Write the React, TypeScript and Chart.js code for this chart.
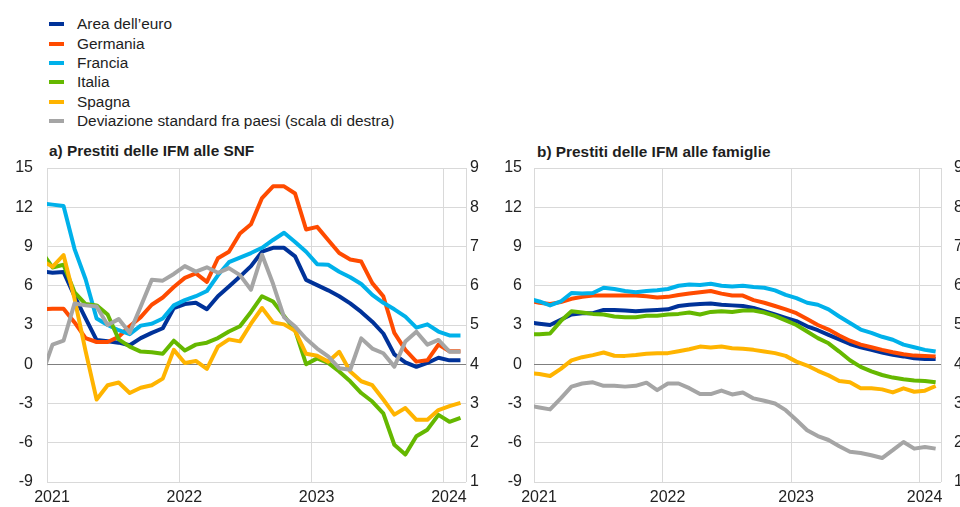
import React, { useEffect, useRef } from 'react';
import { Chart, registerables } from 'chart.js';

Chart.register(...registerables);

const FONT = '"Liberation Sans", Arial, Helvetica, sans-serif';

// Monthly observations (mid-month), December 2020 to February 2024
const FIRST_MONTH = '2020-12';
const LAST_MONTH = '2024-02';
// Visible x range (start of month)
const AXIS_START = '2021-01';
const AXIS_END = '2024-03';
const YEAR_TICKS = [2021, 2022, 2023, 2024];

const LEFT_TICKS = { min: -9, max: 15, step: 3 };
const RIGHT_TICKS = { min: 1, max: 9, step: 1 };

const SERIES_LABELS = [
  "Area dell\u2019euro",
  'Germania',
  'Francia',
  'Italia',
  'Spagna',
  'Deviazione standard fra paesi (scala di destra)',
];
const SERIES_COLORS = ['#003299', '#FF4B00', '#00B1EA', '#65B800', '#FFB400', '#A5A5A5'];

const TITLE_A = 'a) Prestiti delle IFM alle SNF';
const TITLE_B = 'b) Prestiti delle IFM alle famiglie';

// a) loans to non-financial corporations (annual % change)
const snfArea = [7.1, 7.0, 7.05, 5.2, 3.5, 1.85, 1.75, 1.65, 1.45, 2.0, 2.4, 2.75, 4.3, 4.6, 4.7, 4.2, 5.2, 5.95, 6.7, 7.5, 8.6, 8.9, 8.9, 8.25, 6.45, 6.05, 5.65, 5.2, 4.65, 4.0, 3.25, 2.35, 0.75, 0.15, -0.2, 0.1, 0.5, 0.3, 0.3];
const snfGermania = [4.2, 4.25, 4.25, 3.2, 2.0, 1.7, 1.7, 2.1, 2.9, 3.6, 4.55, 5.1, 5.9, 6.6, 6.95, 6.3, 8.1, 8.6, 10.0, 10.7, 12.7, 13.6, 13.6, 13.05, 10.3, 10.5, 9.5, 8.5, 8.0, 7.85, 6.2, 5.2, 2.4, 1.1, 0.2, 0.3, 1.5, 1.0, 1.0];
const snfFrancia = [12.3, 12.2, 12.1, 8.8, 6.5, 3.5, 3.0, 2.6, 2.3, 2.95, 3.1, 3.5, 4.5, 4.9, 5.2, 5.6, 6.8, 7.8, 8.15, 8.5, 8.9, 9.5, 10.05, 9.35, 8.6, 7.65, 7.6, 7.07, 6.65, 6.13, 5.3, 4.7, 4.2, 3.64, 2.8, 3.05, 2.5, 2.2, 2.2];
const snfItalia = [8.6, 7.4, 7.6, 5.5, 4.6, 4.5, 3.8, 1.9, 1.35, 0.97, 0.92, 0.8, 1.8, 1.05, 1.5, 1.65, 2.0, 2.5, 2.9, 4.0, 5.2, 4.8, 3.7, 2.6, 0.0, 0.45, 0.1, -0.55, -1.3, -2.2, -2.85, -3.75, -6.15, -6.9, -5.5, -5.0, -3.87, -4.4, -4.1];
const snfSpagna = [7.95, 7.45, 8.35, 5.0, 1.0, -2.7, -1.6, -1.4, -2.2, -1.8, -1.6, -1.1, 1.1, 0.1, 0.25, -0.35, 1.35, 1.9, 1.75, 3.1, 4.3, 3.2, 3.05, 2.55, 0.8, 0.65, 0.2, 0.95, -0.55, -1.3, -1.6, -2.7, -3.85, -3.35, -4.25, -4.25, -3.5, -3.2, -2.95];
const snfStdDev = [3.7, 4.5, 4.6, 5.55, 5.5, 5.47, 5.0, 5.15, 4.8, 5.47, 6.15, 6.13, 6.3, 6.5, 6.36, 6.47, 6.33, 6.45, 6.27, 5.9, 6.79, 6.05, 5.2, 4.96, 4.65, 4.4, 4.2, 3.9, 3.86, 4.66, 4.4, 4.28, 3.94, 4.58, 4.83, 4.5, 4.62, 4.32, 4.32];

// b) loans to households (annual % change)
const famArea = [3.2, 3.1, 3.0, 3.4, 3.8, 3.9, 3.9, 4.15, 4.15, 4.1, 4.05, 4.1, 4.15, 4.2, 4.45, 4.55, 4.6, 4.65, 4.55, 4.5, 4.45, 4.3, 4.05, 3.8, 3.55, 3.3, 2.9, 2.6, 2.25, 1.9, 1.55, 1.3, 1.1, 0.9, 0.72, 0.6, 0.45, 0.4, 0.4];
const famGermania = [4.85, 4.7, 4.6, 4.75, 5.0, 5.15, 5.25, 5.25, 5.25, 5.25, 5.25, 5.2, 5.1, 5.15, 5.3, 5.4, 5.5, 5.6, 5.4, 5.25, 5.25, 4.9, 4.7, 4.45, 4.2, 3.9, 3.45, 3.0, 2.65, 2.2, 1.8, 1.5, 1.3, 1.1, 0.92, 0.77, 0.66, 0.64, 0.6];
const famFrancia = [5.0, 4.8, 4.5, 4.8, 5.45, 5.4, 5.45, 5.85, 5.75, 5.6, 5.5, 5.6, 5.65, 5.75, 6.0, 6.1, 6.05, 6.15, 6.0, 5.95, 6.0, 5.9, 5.85, 5.65, 5.3, 5.05, 4.7, 4.55, 4.2, 3.65, 3.15, 2.65, 2.4, 2.1, 1.87, 1.5, 1.3, 1.1, 0.97];
const famItalia = [2.3, 2.3, 2.35, 3.3, 4.05, 3.95, 3.85, 3.8, 3.65, 3.6, 3.6, 3.7, 3.7, 3.8, 3.85, 3.95, 3.8, 4.0, 4.05, 4.0, 4.1, 4.1, 3.95, 3.7, 3.35, 3.0, 2.5, 2.0, 1.6, 0.97, 0.3, -0.2, -0.55, -0.82, -1.02, -1.15, -1.25, -1.28, -1.38];
const famSpagna = [-0.65, -0.75, -0.9, -0.35, 0.3, 0.54, 0.7, 0.9, 0.65, 0.64, 0.7, 0.8, 0.85, 0.85, 1.0, 1.15, 1.35, 1.28, 1.35, 1.23, 1.18, 1.1, 0.97, 0.85, 0.64, 0.2, -0.1, -0.5, -0.85, -1.28, -1.38, -1.84, -1.84, -1.92, -2.15, -1.84, -2.1, -2.02, -1.66];
const famStdDev = [2.95, 2.9, 2.85, 3.13, 3.43, 3.51, 3.54, 3.45, 3.45, 3.43, 3.45, 3.53, 3.34, 3.51, 3.51, 3.39, 3.24, 3.24, 3.33, 3.23, 3.28, 3.13, 3.07, 3.0, 2.83, 2.58, 2.32, 2.17, 2.07, 1.91, 1.77, 1.74, 1.68, 1.61, 1.81, 2.02, 1.85, 1.89, 1.85];

// ---- helpers -------------------------------------------------------------
const BASE_YEAR = 2021;
function parseMonth(s: string) {
  const [y, m] = s.split('-').map(Number);
  return { y, m };
}
function monthStartIndex(s: string) {
  const { y, m } = parseMonth(s);
  return (y - BASE_YEAR) * 12 + (m - 1);
}
function monthList(first: string, last: string) {
  const out: string[] = [];
  let { y, m } = parseMonth(first);
  const end = monthStartIndex(last);
  while ((y - BASE_YEAR) * 12 + (m - 1) <= end) {
    out.push(`${y}-${String(m).padStart(2, '0')}`);
    m += 1;
    if (m > 12) { m = 1; y += 1; }
  }
  return out;
}
const MONTHS = monthList(FIRST_MONTH, LAST_MONTH);
// observation placed at the middle of its month
const MONTH_POS = MONTHS.map((s) => monthStartIndex(s) + 0.5);

function toPoints(values: number[]) {
  return values.map((v, i) => ({ x: MONTH_POS[i], y: v }));
}

type PanelLayout = {
  leftWidth: number;
  rightWidth: number;
  leftPad: number;
  rightPad: number;
};

function buildConfig(series: number[][], layout: PanelLayout): any {
  const datasets = series.map((vals, i) => {
    const isRight = i === 5;
    return {
      label: SERIES_LABELS[i],
      data: toPoints(vals),
      yAxisID: isRight ? 'y1' : 'y',
      borderColor: SERIES_COLORS[i],
      backgroundColor: SERIES_COLORS[i],
      borderWidth: 4,
      pointRadius: 0,
      pointHoverRadius: 0,
      tension: 0,
      fill: false,
      borderJoinStyle: 'round',
      borderCapStyle: 'butt',
      clip: { left: 0, right: 0, top: 6, bottom: 6 },
      order: 5 - i,
    };
  });
  const tickFont = { family: FONT, size: 16 };
  return {
    type: 'line',
    data: { datasets },
    options: {
      responsive: false,
      animation: false,
      events: [],
      layout: { padding: { top: 28, left: 0, right: 0, bottom: 0 } },
      plugins: { legend: { display: false }, tooltip: { enabled: false }, title: { display: false } },
      scales: {
        x: {
          type: 'linear',
          min: monthStartIndex(AXIS_START),
          max: monthStartIndex(AXIS_END),
          grid: { color: '#d9d9d9', lineWidth: 1, drawTicks: false },
          border: { display: false },
          afterBuildTicks: (scale: any) => {
            const t = YEAR_TICKS.map((yr) => ({ value: monthStartIndex(`${yr}-01`) }));
            t.push({ value: monthStartIndex(AXIS_END) });
            scale.ticks = t;
          },
          afterFit: (scale: any) => { scale.height = 25; },
          ticks: {
            autoSkip: false,
            maxRotation: 0,
            minRotation: 0,
            padding: 6,
            labelOffset: 5,
            color: '#222',
            font: tickFont,
            callback: (v: number) => {
              const yr = BASE_YEAR + v / 12;
              return YEAR_TICKS.includes(yr) ? String(yr) : '';
            },
          },
        },
        y: {
          type: 'linear',
          position: 'left',
          min: LEFT_TICKS.min,
          max: LEFT_TICKS.max,
          grid: {
            drawTicks: false,
            lineWidth: 1,
            color: (ctx: any) => (ctx.tick && ctx.tick.value === 0 ? '#7f7f7f' : '#d9d9d9'),
          },
          border: { display: false },
          afterFit: (scale: any) => { scale.width = layout.leftWidth; },
          ticks: { stepSize: LEFT_TICKS.step, padding: layout.leftPad, color: '#222', font: tickFont },
        },
        y1: {
          type: 'linear',
          position: 'right',
          min: RIGHT_TICKS.min,
          max: RIGHT_TICKS.max,
          grid: { display: false, drawTicks: false },
          border: { display: false },
          afterFit: (scale: any) => { scale.width = layout.rightWidth; },
          ticks: { stepSize: RIGHT_TICKS.step, padding: layout.rightPad, color: '#222', font: tickFont },
        },
      },
    },
  };
}

function Panel(props: { series: number[][]; layout: PanelLayout; left: number; width: number }) {
  const ref = useRef<HTMLCanvasElement | null>(null);
  useEffect(() => {
    if (!ref.current) return;
    const chart = new Chart(ref.current, buildConfig(props.series, props.layout));
    return () => chart.destroy();
  }, []);
  return (
    <canvas
      ref={ref}
      width={props.width}
      height={367}
      style={{ position: 'absolute', left: props.left, top: 140, width: props.width, height: 367 }}
    />
  );
}

export default function App() {
  const textStyle: React.CSSProperties = { fontFamily: FONT, color: '#1e1e1e' };
  return (
    <div style={{ position: 'absolute', left: 0, top: 0, width: 960, height: 507, background: '#fff', overflow: 'hidden' }}>
      <div style={{ position: 'absolute', left: 49, top: 14.5, ...textStyle, fontSize: 15.4 }}>
        {SERIES_LABELS.map((lab, i) => (
          <div key={lab} style={{ display: 'flex', alignItems: 'center', height: 19.4, whiteSpace: 'nowrap' }}>
            <span style={{ display: 'inline-block', width: 15, height: 4, background: SERIES_COLORS[i], marginRight: 13 }} />
            <span>{lab}</span>
          </div>
        ))}
      </div>
      <div style={{ position: 'absolute', left: 49, top: 140.5, ...textStyle, fontSize: 15.4, fontWeight: 'bold', lineHeight: '19px', whiteSpace: 'nowrap' }}>
        {TITLE_A}
      </div>
      <div style={{ position: 'absolute', left: 537, top: 141.5, ...textStyle, fontSize: 15.4, fontWeight: 'bold', lineHeight: '19px', whiteSpace: 'nowrap' }}>
        {TITLE_B}
      </div>
      <Panel
        series={[snfArea, snfGermania, snfFrancia, snfItalia, snfSpagna, snfStdDev]}
        layout={{ leftWidth: 47, rightWidth: 29, leftPad: 14, rightPad: 4 }}
        left={0}
        width={495}
      />
      <Panel
        series={[famArea, famGermania, famFrancia, famItalia, famSpagna, famStdDev]}
        layout={{ leftWidth: 39, rightWidth: 19, leftPad: 12, rightPad: 13 }}
        left={495}
        width={465}
      />
    </div>
  );
}
